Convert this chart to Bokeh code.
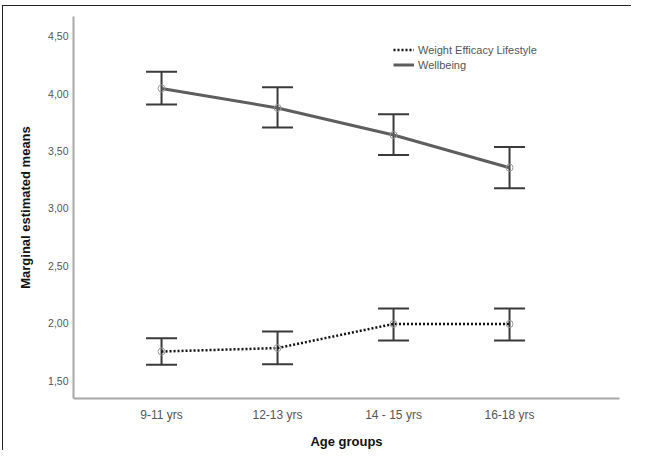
from bokeh.plotting import figure
from bokeh.layouts import column
from bokeh.models import (FixedTicker, Whisker, TeeHead, ColumnDataSource,
                          Legend, LegendItem, Range1d)
from bokeh.embed import file_html
from bokeh.resources import INLINE

categories = ["9-11 yrs", "12-13 yrs", "14 - 15 yrs", "16-18 yrs"]
wel_mean = [1.755, 1.785, 1.995, 1.995]
wel_lower = [1.64, 1.645, 1.85, 1.85]
wel_upper = [1.87, 1.93, 2.13, 2.13]
wb_mean = [4.045, 3.875, 3.64, 3.355]
wb_lower = [3.905, 3.705, 3.465, 3.175]
wb_upper = [4.19, 4.055, 3.82, 3.535]
y_ticks = [1.5, 2.0, 2.5, 3.0, 3.5, 4.0, 4.5]
y_tick_labels = ["1,50", "2,00", "2,50", "3,00", "3,50", "4,00", "4,50"]

xs = list(range(len(categories)))
FONT = "Liberation Sans"

p = figure(width=629, height=445, output_backend="svg", toolbar_location=None,
           x_range=Range1d(-0.759, 3.948), y_range=Range1d(1.346, 4.671),
           min_border_left=70, min_border_right=13, min_border_top=10,
           min_border_bottom=40)
p.margin = (5, 0, 0, 2)
p.styles = {"border-left": "1.5px solid #222", "border-top": "1.5px solid #222"}
p.outline_line_color = None
p.grid.grid_line_color = None
p.border_fill_color = "white"
p.background_fill_color = "white"

src_wel = ColumnDataSource(dict(x=xs, m=wel_mean, lo=wel_lower, hi=wel_upper))
src_wb = ColumnDataSource(dict(x=xs, m=wb_mean, lo=wb_lower, hi=wb_upper))

for src in (src_wel, src_wb):
    w = Whisker(source=src, base="x", lower="lo", upper="hi", dimension="height",
                line_color="#3a3a3a", line_width=2,
                lower_head=TeeHead(size=31, line_color="#3a3a3a", line_width=2),
                upper_head=TeeHead(size=31, line_color="#3a3a3a", line_width=2))
    p.add_layout(w)

r_wel = p.line("x", "m", source=src_wel, line_color="#111111", line_width=2.5,
               line_dash="2 2")
r_wb = p.line("x", "m", source=src_wb, line_color="#5e5e5e", line_width=3)
p.scatter("x", "m", source=src_wel, size=7, fill_color=None, line_color="#999999",
          line_width=1)
p.scatter("x", "m", source=src_wb, size=7, fill_color=None, line_color="#999999",
          line_width=1)

# axes
p.yaxis.ticker = FixedTicker(ticks=y_ticks)
p.yaxis.major_label_overrides = {t: l for t, l in zip(y_ticks, y_tick_labels)}
p.xaxis.ticker = FixedTicker(ticks=xs)
p.xaxis.major_label_overrides = {i: c for i, c in zip(xs, categories)}
for ax in (p.xaxis, p.yaxis):
    ax.axis_line_color = "#a8a8a8"
    ax.axis_line_width = 2
    ax.major_tick_line_color = None
    ax.minor_tick_line_color = None
    ax.major_tick_out = 0
    ax.major_tick_in = 0
    ax.minor_tick_out = 0
    ax.minor_tick_in = 0
    ax.major_label_text_font = FONT
    ax.major_label_text_color = "#555555"
    ax.axis_label_text_font = FONT
    ax.axis_label_text_font_style = "bold"
    ax.axis_label_text_color = "#111111"
    ax.axis_label_text_font_size = "13px"
p.yaxis.major_label_text_font_size = "10.5px"
p.xaxis.major_label_text_font_size = "12px"
p.yaxis.major_label_standoff = 5
p.xaxis.major_label_standoff = 9
p.yaxis.axis_label = "Marginal estimated means"
p.xaxis.axis_label = "Age groups"
p.yaxis.axis_label_standoff = 12
p.xaxis.axis_label_standoff = 9

legend = Legend(items=[LegendItem(label="Weight Efficacy Lifestyle", renderers=[r_wel]),
                       LegendItem(label="Wellbeing", renderers=[r_wb])],
                location=(320, 326), padding=0, margin=0, spacing=0,
                label_height=15, glyph_height=15, glyph_width=21,
                label_standoff=4, label_text_font=FONT,
                label_text_font_size="11px", label_text_color="#555555",
                border_line_color=None, background_fill_alpha=0)
p.add_layout(legend)

layout = column(p)
open("out.html", "w").write(file_html(layout, INLINE))
